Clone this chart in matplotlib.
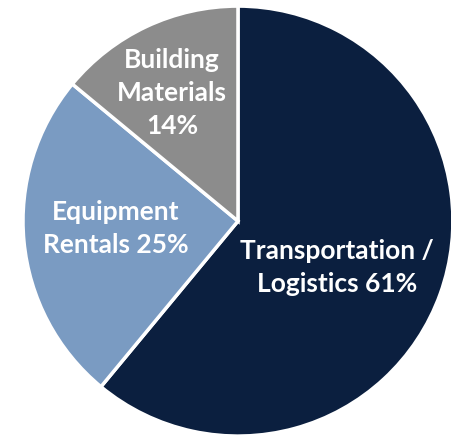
import matplotlib
matplotlib.use("Agg")
import matplotlib.pyplot as plt

# Data
labels = ["Transportation /\nLogistics 61%", "Equipment\nRentals 25%", "Building\nMaterials\n14%"]
shares = [61, 25, 14]
colors = ["#0B1F3F", "#7A9BC2", "#8C8C8C"]

# label centres in data units (pie radius = 1)
labelPos = [(0.46, -0.21), (-0.57, -0.03), (-0.307, 0.60)]

plt.rcParams["font.family"] = ["Lato", "DejaVu Sans"]

fig = plt.figure(figsize=(4.51, 4.39), dpi=100)
ax = fig.add_axes([0, 0, 1, 1])

ax.pie(
    shares,
    colors=colors,
    startangle=90,
    counterclock=False,
    wedgeprops={"edgecolor": "white", "linewidth": 2.5},
)

for text, (x, y) in zip(labels, labelPos):
    ax.text(x, y, text, ha="center", va="center", color="white",
            fontsize=19, fontweight="bold", linespacing=1.45)

ax.set_aspect("auto")
ax.set_xlim(-1.107, 0.991)
ax.set_ylim(-1.009, 1.033)
ax.axis("off")

fig.savefig("out.png", dpi=100, facecolor="white")
